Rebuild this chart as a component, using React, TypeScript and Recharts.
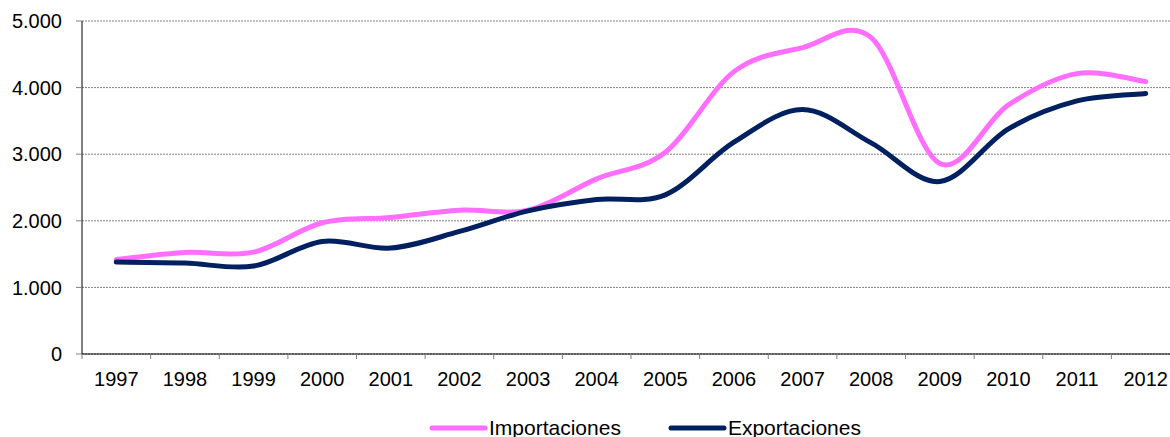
import React from 'react';
import {
  LineChart,
  Line,
  XAxis,
  YAxis,
  CartesianGrid,
  Legend,
} from 'recharts';

const years = ['1997', '1998', '1999', '2000', '2001', '2002', '2003', '2004', '2005', '2006', '2007', '2008', '2009', '2010', '2011', '2012'];
const importaciones = [1420, 1525, 1530, 1970, 2050, 2160, 2160, 2630, 3030, 4240, 4600, 4750, 2860, 3740, 4210, 4090];
const exportaciones = [1380, 1365, 1320, 1690, 1590, 1840, 2150, 2320, 2390, 3180, 3670, 3170, 2590, 3380, 3800, 3910];
const yTicks = [0, 1000, 2000, 3000, 4000, 5000];

const data = years.map((year, i) => ({
  year,
  importaciones: importaciones[i],
  exportaciones: exportaciones[i],
}));

const PINK = '#FF6EFF';
const NAVY = '#002060';
const FONT = '"Liberation Sans", Arial, sans-serif';
const HALF_BAND = 34.3;

// Excel-like smoothing (uniform Catmull-Rom through every point)
const excelCurve = (context: any) => {
  let pts: number[][] = [];
  return {
    areaStart() {},
    areaEnd() {},
    lineStart() {
      pts = [];
    },
    point(x: number, y: number) {
      pts.push([+x, +y]);
    },
    lineEnd() {
      if (!pts.length) return;
      context.moveTo(pts[0][0], pts[0][1]);
      for (let i = 0; i < pts.length - 1; i++) {
        const p0 = pts[i - 1] || pts[i];
        const p1 = pts[i];
        const p2 = pts[i + 1];
        const p3 = pts[i + 2] || p2;
        context.bezierCurveTo(
          p1[0] + (p2[0] - p0[0]) / 6,
          p1[1] + (p2[1] - p0[1]) / 6,
          p2[0] - (p3[0] - p1[0]) / 6,
          p2[1] - (p3[1] - p1[1]) / 6,
          p2[0],
          p2[1],
        );
      }
    },
  };
};

const formatThousands = (v: number) => {
  if (v === 0) return '0';
  const s = String(Math.round(v));
  return s.replace(/\B(?=(\d{3})+(?!\d))/g, '.');
};

// ticks sit between the categories, labels in the middle
const XTick = (props: any) => {
  const { x, y, payload, index, visibleTicksCount } = props;
  const axisY = y - 18;
  return (
    <g>
      <line x1={x - HALF_BAND} y1={axisY} x2={x - HALF_BAND} y2={axisY + 5} stroke="#808080" />
      {index === visibleTicksCount - 1 && (
        <line x1={x + HALF_BAND} y1={axisY} x2={x + HALF_BAND} y2={axisY + 5} stroke="#808080" />
      )}
      <text x={x} y={y} dy="0.71em" textAnchor="middle" fill="#000" fontSize={20} fontFamily={FONT}>
        {payload.value}
      </text>
    </g>
  );
};

const LegendContent = () => {
  const items = [
    { label: 'Importaciones', color: PINK },
    { label: 'Exportaciones', color: NAVY },
  ];
  return (
    <div style={{ display: 'flex', alignItems: 'center', height: 30, paddingLeft: 429, fontFamily: FONT, fontSize: 21, color: '#000' }}>
      {items.map((item, i) => (
        <div key={item.label} style={{ display: 'flex', alignItems: 'center', marginRight: i === 0 ? 47 : 0 }}>
          <svg width={59} height={10} style={{ marginRight: 1 }}>
            <line x1={3} y1={5} x2={56} y2={5} stroke={item.color} strokeWidth={5} strokeLinecap="round" />
          </svg>
          <span>{item.label}</span>
        </div>
      ))}
    </div>
  );
};

export default function App() {
  return (
    <div style={{ position: 'absolute', left: 0, top: 0, width: 1170, height: 437, overflow: 'hidden', background: '#fff', fontFamily: FONT }}>
      <LineChart
        width={1200}
        height={437}
        data={data}
        margin={{ top: 21, right: 20, left: 0, bottom: 3 }}
      >
        <CartesianGrid vertical={false} stroke="#808080" strokeDasharray="2 1" />
        <XAxis
          dataKey="year"
          height={50}
          padding={{ left: HALF_BAND, right: HALF_BAND }}
          axisLine={{ stroke: '#000' }}
          tickLine={false}
          tickSize={5}
          tickMargin={13}
          interval={0}
          tick={<XTick />}
        />
        <YAxis
          width={82}
          domain={[0, 5000]}
          ticks={yTicks}
          interval={0}
          tickFormatter={formatThousands}
          axisLine={{ stroke: '#000' }}
          tickLine={{ stroke: '#808080' }}
          tickSize={6}
          tickMargin={14}
          tick={{ fill: '#000', fontSize: 20, fontFamily: FONT }}
        />
        <Legend
          verticalAlign="bottom"
          content={<LegendContent />}
          wrapperStyle={{ top: 413, bottom: 'auto', left: 0, width: 1170, height: 30 }}
        />
        <Line
          type={excelCurve as any}
          dataKey="importaciones"
          name="Importaciones"
          stroke={PINK}
          strokeWidth={5}
          strokeLinecap="round"
          dot={false}
          activeDot={false}
          isAnimationActive={false}
        />
        <Line
          type={excelCurve as any}
          dataKey="exportaciones"
          name="Exportaciones"
          stroke={NAVY}
          strokeWidth={5}
          strokeLinecap="round"
          dot={false}
          activeDot={false}
          isAnimationActive={false}
        />
      </LineChart>
    </div>
  );
}
